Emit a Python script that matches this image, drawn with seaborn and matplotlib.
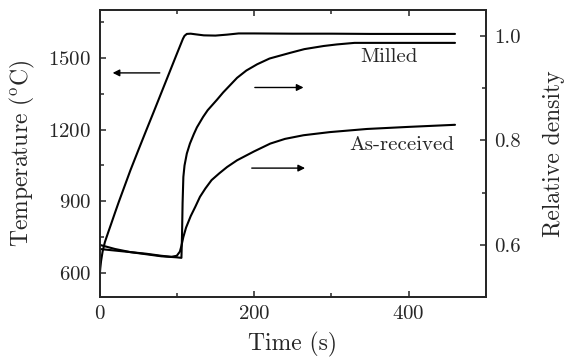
import matplotlib
matplotlib.use("Agg")
import matplotlib.pyplot as plt
from matplotlib.ticker import MultipleLocator, FixedLocator, FormatStrFormatter
import seaborn as sns
import pandas as pd

# Furnace temperature history
temp_time = [0, 1, 2, 4, 7, 11, 15, 20, 25, 30, 40, 50, 60, 70, 80, 90, 100,
             105, 108, 110, 113, 118, 125, 135, 150, 165, 180, 200, 250, 300,
             350, 400, 460]
temp_value = [580, 620, 650, 690, 730, 768, 805, 852, 898, 942, 1030, 1112,
              1193, 1273, 1354, 1435, 1516, 1556, 1580, 1592, 1600, 1601, 1598,
              1594, 1593, 1597, 1602, 1602, 1601, 1601, 1600, 1600, 1600]

# Relative density of the milled powder
milled_time = [0, 10, 20, 30, 40, 50, 60, 70, 80, 90, 100, 106, 106.8, 107.5,
               108.5, 110, 113, 117, 122, 126, 130, 134, 140, 152, 160, 178,
               190, 204, 220, 247, 265, 290, 307, 330, 400, 460]
milled_density = [0.600, 0.596, 0.592, 0.589, 0.586, 0.584, 0.582, 0.580,
                  0.578, 0.577, 0.576, 0.575, 0.620, 0.680, 0.730, 0.752,
                  0.775, 0.794, 0.812, 0.825, 0.835, 0.845, 0.858, 0.878,
                  0.892, 0.920, 0.934, 0.946, 0.957, 0.968, 0.975, 0.981,
                  0.984, 0.987, 0.987, 0.987]

# Relative density of the as-received powder
asrec_time = [0, 20, 40, 60, 80, 93, 100, 104, 106, 108.5, 112, 118, 124, 130,
              137, 145, 155, 165, 178, 200, 221, 240, 264, 298, 346, 400, 460]
asrec_density = [0.592, 0.589, 0.586, 0.583, 0.579, 0.577, 0.579, 0.587,
                 0.598, 0.615, 0.633, 0.655, 0.673, 0.692, 0.708, 0.724,
                 0.737, 0.749, 0.762, 0.779, 0.794, 0.803, 0.810, 0.816,
                 0.822, 0.826, 0.830]

temp_ticks = [600, 900, 1200, 1500]
density_ticks = [0.6, 0.8, 1.0]
time_ticks = [0, 200, 400]

sns.set_style("ticks")
plt.rcParams["font.family"] = ["cmr10"]
plt.rcParams["mathtext.fontset"] = "cm"
plt.rcParams["axes.formatter.use_mathtext"] = True
plt.rcParams["axes.unicode_minus"] = False

fig = plt.figure(figsize=(5.67, 3.61), dpi=100)
ax = fig.add_axes([0.1755, 0.1773, 0.6815, 0.795])
ax2 = ax.twinx()

lw = 1.5
sns.lineplot(data=pd.DataFrame({"t": temp_time, "T": temp_value}), x="t", y="T",
             ax=ax, color="black", lw=lw, estimator=None, sort=False)
sns.lineplot(data=pd.DataFrame({"t": milled_time, "d": milled_density}), x="t", y="d",
             ax=ax2, color="black", lw=lw, estimator=None, sort=False)
sns.lineplot(data=pd.DataFrame({"t": asrec_time, "d": asrec_density}), x="t", y="d",
             ax=ax2, color="black", lw=lw, estimator=None, sort=False)

ax.set_xlim(0, 500)
ax.set_ylim(500, 1700)
ax2.set_ylim(0.5, 1.05)

ax.xaxis.set_major_locator(FixedLocator(time_ticks))
ax.xaxis.set_minor_locator(MultipleLocator(100))
ax.yaxis.set_major_locator(FixedLocator(temp_ticks))
ax.yaxis.set_minor_locator(MultipleLocator(150))
ax2.yaxis.set_major_locator(FixedLocator(density_ticks))
ax2.yaxis.set_minor_locator(FixedLocator([0.5, 0.7, 0.9]))
ax2.yaxis.set_major_formatter(FormatStrFormatter("%.1f"))

ax.tick_params(axis="x", which="both", direction="in", top=True, bottom=True)
ax.tick_params(axis="y", which="both", direction="in", left=True, right=False)
ax2.tick_params(axis="y", which="both", direction="in", right=True)
for a in (ax, ax2):
    a.tick_params(which="major", length=4.5, width=1.1, labelsize=15, pad=6)
    a.tick_params(which="minor", length=3, width=1.1)
    for s in a.spines.values():
        s.set_linewidth(1.3)
        s.set_visible(True)

ax.set_xlabel("Time (s)", fontsize=17, labelpad=6)
ax.set_ylabel(r"Temperature ($^{\mathrm{o}}$C)", fontsize=17, labelpad=8)
ax2.set_ylabel("Relative density", fontsize=17, labelpad=16)

arrow = dict(arrowstyle="-|>", color="black", lw=1.0, mutation_scale=10,
             shrinkA=0, shrinkB=0)
ax.annotate("", xy=(17, 1437), xytext=(78, 1437), arrowprops=arrow)
ax2.annotate("", xy=(264, 0.9015), xytext=(201, 0.9015), arrowprops=arrow)
ax2.annotate("", xy=(266, 0.747), xytext=(197, 0.747), arrowprops=arrow)

ax2.text(375, 0.959, "Milled", fontsize=15, ha="center", va="center")
ax2.text(391, 0.791, "As-received", fontsize=15, ha="center", va="center")

fig.savefig("out.png", dpi=100)
